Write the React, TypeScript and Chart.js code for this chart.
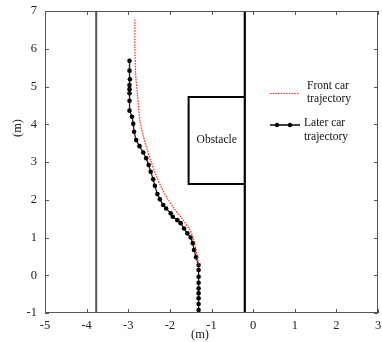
import React, { useEffect, useRef } from "react";
import { Chart, registerables } from "chart.js";
Chart.register(...registerables);

const xTicks = [-5, -4, -3, -2, -1, 0, 1, 2, 3];
const yTicks = [-1, 0, 1, 2, 3, 4, 5, 6, 7];

const laterX = [-2.97, -2.97, -2.96, -2.97, -2.97, -2.97, -2.97, -2.97, -2.91, -2.88, -2.86, -2.81, -2.73, -2.64, -2.57, -2.51, -2.46, -2.40, -2.36, -2.30, -2.24, -2.16, -2.09, -1.98, -1.93, -1.82, -1.74, -1.66, -1.58, -1.50, -1.45, -1.42, -1.37, -1.31, -1.31, -1.31, -1.31, -1.31, -1.31, -1.31, -1.31, -1.31];
const laterY = [5.68, 5.42, 5.19, 5.04, 4.93, 4.82, 4.62, 4.36, 4.20, 4.01, 3.80, 3.58, 3.42, 3.25, 3.10, 2.92, 2.74, 2.54, 2.37, 2.15, 2.01, 1.86, 1.77, 1.64, 1.55, 1.46, 1.38, 1.24, 1.11, 1.00, 0.85, 0.67, 0.48, 0.27, 0.14, -0.04, -0.20, -0.35, -0.48, -0.61, -0.76, -0.92];

const frontX = [-2.84, -2.84, -2.82, -2.78, -2.72, -2.64, -2.55, -2.45, -2.33, -2.20, -2.05, -1.90, -1.72, -1.52, -1.42, -1.36, -1.31];
const frontY = [6.77, 6.0, 5.3, 4.8, 4.1, 3.7, 3.35, 3.0, 2.65, 2.32, 2.02, 1.77, 1.52, 1.2, 0.9, 0.6, 0.25];

const leftWallX = [-3.77, -3.77];
const leftWallY = [7, -1];
const rightWallX = [-0.2, -0.2];
const rightWallY = [7, -1];
const obstacleX = [-0.2, -1.55, -1.55, -0.2];
const obstacleY = [4.72, 4.72, 2.42, 2.42];

const obstacleLabel = "Obstacle";
const frontLabel = ["Front car", "trajectory"];
const laterLabel = ["Later car", "trajectory"];
const axisTitle = "(m)";

const SERIF = "'Liberation Serif', 'Times New Roman', serif";

const pts = (xs: number[], ys: number[]) => xs.map((x, i) => ({ x, y: ys[i] }));

export default function App() {
  const ref = useRef<HTMLCanvasElement>(null);
  useEffect(() => {
    const decor = {
      id: "decor",
      afterDraw(chart: any) {
        const { ctx, chartArea: a, scales } = chart;
        const xs = scales.x, ys = scales.y;
        ctx.save();
        ctx.strokeStyle = "#555";
        ctx.lineWidth = 1;
        ctx.strokeRect(a.left + 0.5, a.top + 0.5, a.right - a.left - 1, a.bottom - a.top - 1);
        ctx.beginPath();
        xTicks.forEach((t) => {
          const px = Math.round(xs.getPixelForValue(t)) + 0.5;
          ctx.moveTo(px, a.bottom); ctx.lineTo(px, a.bottom - 4);
          ctx.moveTo(px, a.top); ctx.lineTo(px, a.top + 4);
        });
        yTicks.forEach((t) => {
          const py = Math.round(ys.getPixelForValue(t)) + 0.5;
          ctx.moveTo(a.left, py); ctx.lineTo(a.left + 4, py);
          ctx.moveTo(a.right, py); ctx.lineTo(a.right - 4, py);
        });
        ctx.stroke();
        ctx.fillStyle = "#222";
        ctx.font = `12.5px ${SERIF}`;
        ctx.textAlign = "center";
        ctx.textBaseline = "middle";
        xTicks.forEach((t) => {
          ctx.fillText(String(t), xs.getPixelForValue(t), a.bottom + 13);
        });
        ctx.textAlign = "right";
        yTicks.forEach((t) => {
          ctx.fillText(String(t), a.left - 8, ys.getPixelForValue(t));
        });
        ctx.textAlign = "center";
        ctx.fillText(axisTitle, 200, 335);
        ctx.save();
        ctx.translate(18, 128);
        ctx.rotate(-Math.PI / 2);
        ctx.fillText(axisTitle, 0, 0);
        ctx.restore();
        ctx.fillStyle = "#111";
        ctx.font = `11.5px ${SERIF}`;
        ctx.fillText(obstacleLabel, (xs.getPixelForValue(obstacleX[0]) + xs.getPixelForValue(obstacleX[1])) / 2, (ys.getPixelForValue(obstacleY[0]) + ys.getPixelForValue(obstacleY[2])) / 2);
        ctx.textAlign = "left";
        ctx.fillText(frontLabel[0], 307, 86);
        ctx.fillText(frontLabel[1], 307, 99);
        ctx.fillText(laterLabel[0], 304, 123);
        ctx.fillText(laterLabel[1], 304, 137);
        ctx.strokeStyle = "#ff2020";
        ctx.lineWidth = 1.2;
        ctx.setLineDash([1.5, 1.2]);
        ctx.beginPath();
        ctx.moveTo(270, 93.5); ctx.lineTo(299, 93.5);
        ctx.stroke();
        ctx.setLineDash([]);
        ctx.strokeStyle = "#000";
        ctx.lineWidth = 1.5;
        ctx.beginPath();
        ctx.moveTo(270, 125); ctx.lineTo(300, 125);
        ctx.stroke();
        ctx.fillStyle = "#000";
        [277, 290].forEach((x) => {
          ctx.beginPath(); ctx.arc(x, 125, 2.2, 0, Math.PI * 2); ctx.fill();
        });
        ctx.restore();
      },
    };

    const chart = new Chart(ref.current!, {
      type: "scatter",
      data: {
        datasets: [
          { data: pts(leftWallX, leftWallY), showLine: true, borderColor: "#555", borderWidth: 2, pointRadius: 0 },
          { data: pts(rightWallX, rightWallY), showLine: true, borderColor: "#000", borderWidth: 2.2, pointRadius: 0 },
          { data: pts(obstacleX, obstacleY), showLine: true, borderColor: "#000", borderWidth: 2, pointRadius: 0 },
          { data: pts(frontX, frontY), showLine: true, borderColor: "#ff2020", borderWidth: 1.2, borderDash: [1.5, 1.2], pointRadius: 0, tension: 0.3 },
          { data: pts(laterX, laterY), showLine: true, borderColor: "#222", borderWidth: 1.3, pointRadius: 2.3, pointBackgroundColor: "#000", pointBorderColor: "#000", pointBorderWidth: 0 },
        ],
      },
      options: {
        animation: false,
        responsive: false,
        maintainAspectRatio: false,
        layout: { padding: { top: 11, right: 4, left: 0, bottom: 0 } },
        plugins: { legend: { display: false }, tooltip: { enabled: false } },
        scales: {
          x: {
            type: "linear", min: -5, max: 3,
            grid: { display: false }, border: { display: false },
            ticks: { display: false },
            afterFit: (s: any) => { s.height = 29; },
          },
          y: {
            type: "linear", min: -1, max: 7,
            grid: { display: false }, border: { display: false },
            ticks: { display: false },
            afterFit: (s: any) => { s.width = 45; },
          },
        },
      },
      plugins: [decor],
    });
    return () => chart.destroy();
  }, []);
  return (
    <div style={{ position: "fixed", left: 0, top: 0, width: 382, height: 342, background: "#fff" }}>
      <canvas ref={ref} width={382} height={342} style={{ width: 382, height: 342 }} />
    </div>
  );
}
